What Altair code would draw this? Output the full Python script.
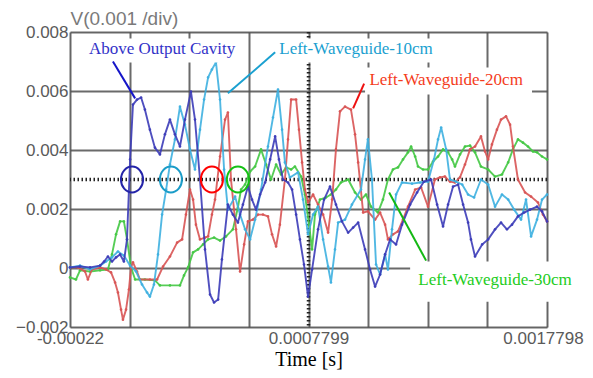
import altair as alt
import pandas as pd

# ---- values: time in microseconds, voltage in millivolts ----
blue_t = [-220, -178, -136, -94, -77, -61, -44, -27, -10, 6, 19, 32, 44, 61, 78, 94, 115, 136, 157, 178,
          199, 220, 241, 262, 287, 304, 325, 346, 367, 384, 401, 417, 442, 463, 484, 505, 526, 543, 560, 577,
          598, 619, 640, 656, 673, 694, 711, 728, 744, 761, 778, 795, 820, 845, 870, 895, 920, 946, 967, 988,
          1017, 1038, 1059, 1080, 1101, 1122, 1147, 1172, 1206, 1235, 1264, 1294, 1319, 1344, 1365, 1386, 1407,
          1428, 1449, 1461, 1478, 1508, 1533, 1562, 1587, 1612, 1633, 1658, 1684, 1709, 1738, 1759, 1780]
blue_v = [0.02, 0.05, 0.02, 0.08, 0.22, 0.39, 0.22, 0.36, 0.46, 0.22, 0.97, 3.68, 5.54, 5.71, 5.78, 5.37, 4.69,
          4.08, 3.85, 4.53, 5.03, 4.53, 4.12, 5.03, 5.98, 5.03, 3.00, 0.63, -0.90, -1.17, -1.07, 0.29, 2.15, 1.81,
          1.54, 2.15, 2.76, 2.32, 1.98, 2.49, 2.90, 3.68, 4.46, 3.68, 3.00, 2.90, 2.66, 1.81, 0.97, 0.12, -0.97,
          -0.05, 1.31, 2.32, 2.76, 2.15, 1.58, 1.20, 1.37, 1.54, 0.63, -0.05, -0.63, -0.22, 0.46, 0.97, 0.80,
          1.47, 2.15, 2.56, 2.93, 3.00, 2.15, 1.41, 2.15, 2.76, 2.83, 2.15, 1.54, 0.97, 0.39, 0.80, 0.97, 1.31,
          1.54, 1.31, 1.47, 1.75, 1.88, 1.98, 2.08, 1.92, 1.58]

cyan_t = [-220, -178, -136, -94, -69, -44, -19, 6, 32, 57, 82, 103, 115, 132, 149, 166, 183, 199, 220, 241,
          262, 283, 304, 325, 342, 359, 375, 392, 409, 426, 442, 472, 493, 514, 535, 556, 581, 610, 631, 652,
          669, 681, 702, 736, 757, 778, 799, 820, 841, 862, 874, 891, 904, 933, 962, 1000, 1017, 1029, 1046,
          1063, 1080, 1101, 1113, 1130, 1147, 1172, 1214, 1248, 1281, 1306, 1323, 1336, 1357, 1373, 1398, 1424,
          1449, 1474, 1503, 1533, 1562, 1591, 1617, 1642, 1671, 1692, 1713, 1738, 1759, 1780]
cyan_v = [0.02, 0.08, -0.05, 0.08, 0.22, 0.36, 0.56, 0.42, 0.08, -0.12, -0.56, -0.83, -0.97, -0.56, 0.46, 1.81,
          2.66, 3.51, 4.36, 5.47, 4.86, 4.02, 3.34, 4.69, 5.71, 6.46, 6.73, 6.97, 5.71, 3.34, 1.98, 2.42, 1.81,
          1.31, 0.97, 1.64, 2.66, 4.12, 5.10, 6.05, 4.69, 3.58, 3.07, 3.24, 2.32, 1.14, 1.81, 2.08, 0.97, 0.05,
          -0.49, 0.63, 1.54, 1.64, 2.15, 2.66, 3.68, 4.36, 3.00, 0.12, -0.22, 0.46, -0.05, 1.31, 2.49, 2.90,
          2.86, 2.90, 2.93, 3.68, 4.36, 4.76, 4.02, 3.00, 2.93, 2.83, 2.49, 2.39, 3.00, 2.83, 2.08, 2.49, 2.32,
          1.98, 1.64, 2.32, 1.07, 1.64, 2.32, 2.49]

red_t = [-220, -186, -157, -145, -128, -94, -69, -48, -31, -19, -6, 2, 15, 27, 36, 44, 61, 73, 115, 145, 170,
         199, 229, 250, 266, 283, 296, 308, 325, 346, 359, 375, 388, 409, 430, 442, 455, 476, 493, 510, 526,
         547, 568, 589, 610, 627, 644, 660, 681, 694, 707, 728, 740, 753, 765, 778, 799, 820, 841, 862, 879,
         895, 912, 933, 958, 975, 988, 1009, 1029, 1059, 1080, 1101, 1113, 1134, 1155, 1176, 1197, 1227, 1252,
         1281, 1310, 1331, 1352, 1373, 1394, 1415, 1436, 1457, 1478, 1503, 1520, 1533, 1549, 1570, 1587, 1608,
         1625, 1637, 1658, 1688, 1713, 1742, 1763, 1780]
red_v = [0.02, 0.02, -0.12, -0.39, -0.05, 0.02, -0.05, -0.15, -0.49, -0.83, -1.41, -1.75, -1.41, -0.73, 0.02,
         0.19, -0.12, -0.39, -0.39, -0.39, 0.05, 0.39, 0.86, 0.97, 1.81, 2.66, 2.32, 1.47, 0.97, 1.03, 1.07,
         1.81, 2.32, 3.78, 5.03, 5.27, 3.00, 1.31, -0.12, 0.80, 1.58, 1.64, 1.81, 1.81, 1.75, 1.14, 0.73, 1.47,
         3.00, 4.36, 5.71, 5.71, 4.69, 3.58, 2.66, 2.22, 2.49, 2.15, 1.81, 1.20, 2.32, 4.02, 5.31, 5.47, 5.37,
         4.53, 3.58, 1.88, 1.92, 1.64, 1.88, 1.47, 0.97, 1.14, 1.24, 1.64, 2.08, 2.66, 2.73, 2.08, 3.00, 3.07,
         3.10, 2.93, 2.90, 3.07, 3.51, 4.02, 4.12, 4.46, 3.95, 3.68, 4.19, 4.69, 5.03, 5.14, 4.86, 4.12, 3.00,
         2.56, 2.42, 2.22, 1.81, 1.58]

green_t = [-220, -195, -178, -136, -94, -61, -44, -27, -10, 6, 19, 36, 53, 94, 136, 157, 199, 241, 258, 275,
           296, 317, 338, 359, 384, 409, 434, 463, 484, 497, 514, 535, 556, 581, 602, 623, 644, 665, 686, 707,
           723, 749, 765, 782, 795, 807, 828, 853, 874, 895, 916, 946, 975, 1000, 1021, 1042, 1071, 1092, 1113,
           1134, 1155, 1176, 1197, 1210, 1227, 1239, 1260, 1281, 1302, 1323, 1344, 1365, 1382, 1394, 1415, 1436,
           1457, 1478, 1503, 1533, 1562, 1591, 1617, 1637, 1658, 1679, 1700, 1721, 1738, 1759, 1780]
green_v = [-0.32, -0.39, -0.08, -0.12, -0.08, -0.05, 0.46, 1.14, 1.58, 1.58, 0.97, 0.02, -0.39, -0.39, -0.42,
           -0.59, -0.59, -0.59, -0.25, 0.02, 0.53, 0.63, 0.80, 0.97, 1.03, 0.93, 1.07, 1.31, 2.05, 2.66, 2.83,
           3.27, 3.44, 4.02, 3.51, 3.00, 3.51, 3.17, 3.41, 3.34, 3.44, 3.10, 2.49, 1.47, 0.63, 1.81, 2.32, 2.39,
           2.49, 2.66, 2.90, 3.00, 2.56, 2.32, 2.49, 2.08, 1.88, 2.32, 3.00, 3.34, 3.41, 3.68, 3.92, 4.12, 3.78,
           3.44, 3.34, 3.34, 3.61, 3.78, 4.02, 3.92, 3.68, 3.44, 3.85, 4.12, 4.15, 3.92, 3.44, 3.34, 3.10, 3.17,
           3.58, 4.02, 4.36, 4.25, 4.12, 3.95, 3.92, 3.78, 3.68]

series_names = ["Above Output Cavity", "Left-Waveguide-10cm", "Left-Waveguide-20cm", "Left-Waveguide-30cm"]
line_colors = ["#3c3cb8", "#3eb0e0", "#d85454", "#44c844"]
text_colors = ["#3232c8", "#1a9fd0", "#f43c1c", "#22cc22"]
leader_colors = ["#1515c8", "#1aa0d0", "#ee1010", "#14b814"]
ring_colors = ["#2424a8", "#1a9cc8", "#ff0000", "#14c014"]

# annotation text anchors (µs, mV), white box extents, leader lines, rings
label_t = [166, 979, 1357, 1562]
label_v = [7.41, 7.41, 6.36, -0.39]
box_t1 = [-170, 610, 1017, 1206]
box_t2 = [514, 1340, 1717, 1906]
box_v1 = [7.78, 7.78, 6.80, 0.22]
box_v2 = [6.97, 6.97, 5.88, -1.14]
lead_t1 = [-40, 640, 1013, 1118]
lead_v1 = [7.00, 7.31, 6.25, 2.56]
lead_t2 = [53, 442, 967, 1273]
lead_v2 = [5.75, 5.92, 5.41, 0.25]
ring_t = [40, 203, 375, 484]
ring_v = [3.0, 3.0, 3.0, 3.0]

X_MIN, X_MAX = -0.00022, 0.0017798
Y_MIN, Y_MAX = -0.002, 0.008
CENTER_T, CENTER_V = 0.0007799, 0.003

rows = []
for name, ts, vs in zip(series_names,
                        [blue_t, cyan_t, red_t, green_t],
                        [blue_v, cyan_v, red_v, green_v]):
    for t, v in zip(ts, vs):
        rows.append({"series": name, "t": t / 1e6, "v": v / 1e3})
df = pd.DataFrame(rows)

ann = pd.DataFrame({
    "label": series_names,
    "tc": [x / 1e6 for x in label_t], "vc": [x / 1e3 for x in label_v],
    "bt1": [x / 1e6 for x in box_t1], "bt2": [x / 1e6 for x in box_t2],
    "bv1": [x / 1e3 for x in box_v1], "bv2": [x / 1e3 for x in box_v2],
    "lt1": [x / 1e6 for x in lead_t1], "lv1": [x / 1e3 for x in lead_v1],
    "lt2": [x / 1e6 for x in lead_t2], "lv2": [x / 1e3 for x in lead_v2],
    "rt": [x / 1e6 for x in ring_t], "rv": [x / 1e3 for x in ring_v],
    "tcol": text_colors, "lcol": leader_colors, "rcol": ring_colors,
})

grid_x = [X_MIN + k * (X_MAX - X_MIN) / 16 for k in range(17)]
grid_y = [round(Y_MIN + k * 0.001, 6) for k in range(11)]

xscale = alt.Scale(domain=[X_MIN, X_MAX], nice=False, zero=False)
yscale = alt.Scale(domain=[Y_MIN, Y_MAX], nice=False, zero=False)

label_expr = ("abs(datum.value - (-0.00022)) < 1e-8 ? '-0.00022' : "
              "abs(datum.value - 0.0007799) < 1e-8 ? '0.0007799' : "
              "abs(datum.value - 0.0017798) < 1e-8 ? '0.0017798' : ''")

x_axis = alt.Axis(values=grid_x, labelExpr=label_expr, title="Time [s]", grid=True,
                  gridColor="#505050", gridWidth=2, gridOpacity=0.85, ticks=False, domain=False,
                  labelFont="Liberation Sans", labelFontSize=17, labelColor="#5a5a5a",
                  labelPadding=3, labelFlush=False, labelOverlap=False,
                  labelOffset={"condition": {"test": "datum.value > 0.0017", "value": -4}, "value": 0},
                  titleFont="Liberation Serif", titleFontSize=20, titleFontWeight="normal",
                  titleColor="#000000", titlePadding=3)
y_axis = alt.Axis(values=grid_y, format=".3~f", title="V(0.001 /div)", grid=True,
                  gridColor="#505050", gridWidth=2, gridOpacity=0.85, ticks=False, domain=False,
                  labelFont="Liberation Sans", labelFontSize=17, labelColor="#5a5a5a",
                  labelPadding=2, labelFlush=False, labelOverlap=False,
                  titleAngle=0, titleX=0, titleY=-14, titleAlign="left", titleBaseline="middle",
                  titleFont="Liberation Sans", titleFontSize=19, titleFontWeight="normal",
                  titleColor="#7a7a7a")

base = alt.Chart(df)

layers = []
# axes/grid carrier
layers.append(base.mark_line(opacity=0).encode(
    x=alt.X("t:Q", scale=xscale, axis=x_axis),
    y=alt.Y("v:Q", scale=yscale, axis=y_axis)))

# center cross lines (oscilloscope style, dotted heavy)
layers.append(alt.Chart(pd.DataFrame({"v": [CENTER_V]})).mark_rule(
    color="#222222", strokeWidth=3.5, strokeDash=[1.5, 2.5]).encode(y=alt.Y("v:Q", scale=yscale)))
layers.append(alt.Chart(pd.DataFrame({"t": [CENTER_T]})).mark_rule(
    color="#222222", strokeWidth=3.5, strokeDash=[1.5, 2.5]).encode(x=alt.X("t:Q", scale=xscale)))

order = [3, 2, 1, 0]
for i in order:
    name = series_names[i]
    layers.append(base.transform_filter(alt.datum.series == name).mark_line(
        color=line_colors[i], strokeWidth=1.9, opacity=0.9, strokeJoin="round", strokeCap="round",
        point=alt.OverlayMarkDef(filled=True, size=7, color=line_colors[i], opacity=0.9)).encode(
        x=alt.X("t:Q", scale=xscale), y=alt.Y("v:Q", scale=yscale), order="t:Q"))

ann_base = alt.Chart(ann)
layers.append(ann_base.mark_rect(color="white", clip=False).encode(
    x=alt.X("bt1:Q", scale=xscale), x2="bt2:Q",
    y=alt.Y("bv1:Q", scale=yscale), y2="bv2:Q"))
layers.append(ann_base.mark_text(font="Liberation Serif", fontSize=17, align="center",
                                 baseline="middle").encode(
    x=alt.X("tc:Q", scale=xscale), y=alt.Y("vc:Q", scale=yscale),
    text="label:N", color=alt.Color("tcol:N", scale=None)))
layers.append(ann_base.mark_rule(strokeWidth=2).encode(
    x=alt.X("lt1:Q", scale=xscale), x2="lt2:Q",
    y=alt.Y("lv1:Q", scale=yscale), y2="lv2:Q",
    color=alt.Color("lcol:N", scale=None)))
ellipse = "M-0.85,0A0.85,1,0,1,0,0.85,0A0.85,1,0,1,0,-0.85,0Z"
layers.append(ann_base.mark_point(shape=ellipse, size=676, filled=False, strokeWidth=2,
                                  opacity=1).encode(
    x=alt.X("rt:Q", scale=xscale), y=alt.Y("rv:Q", scale=yscale),
    color=alt.Color("rcol:N", scale=None)))

chart = alt.layer(*layers).properties(
    width=477, height=295,
    autosize=alt.AutoSizeParams(type="none"),
    padding={"left": 62, "top": 24, "right": 38, "bottom": 43},
).configure_view(stroke="#404040", strokeWidth=2).configure(background="white")

chart.save("out.html", embed_options={"renderer": "svg", "actions": False})
